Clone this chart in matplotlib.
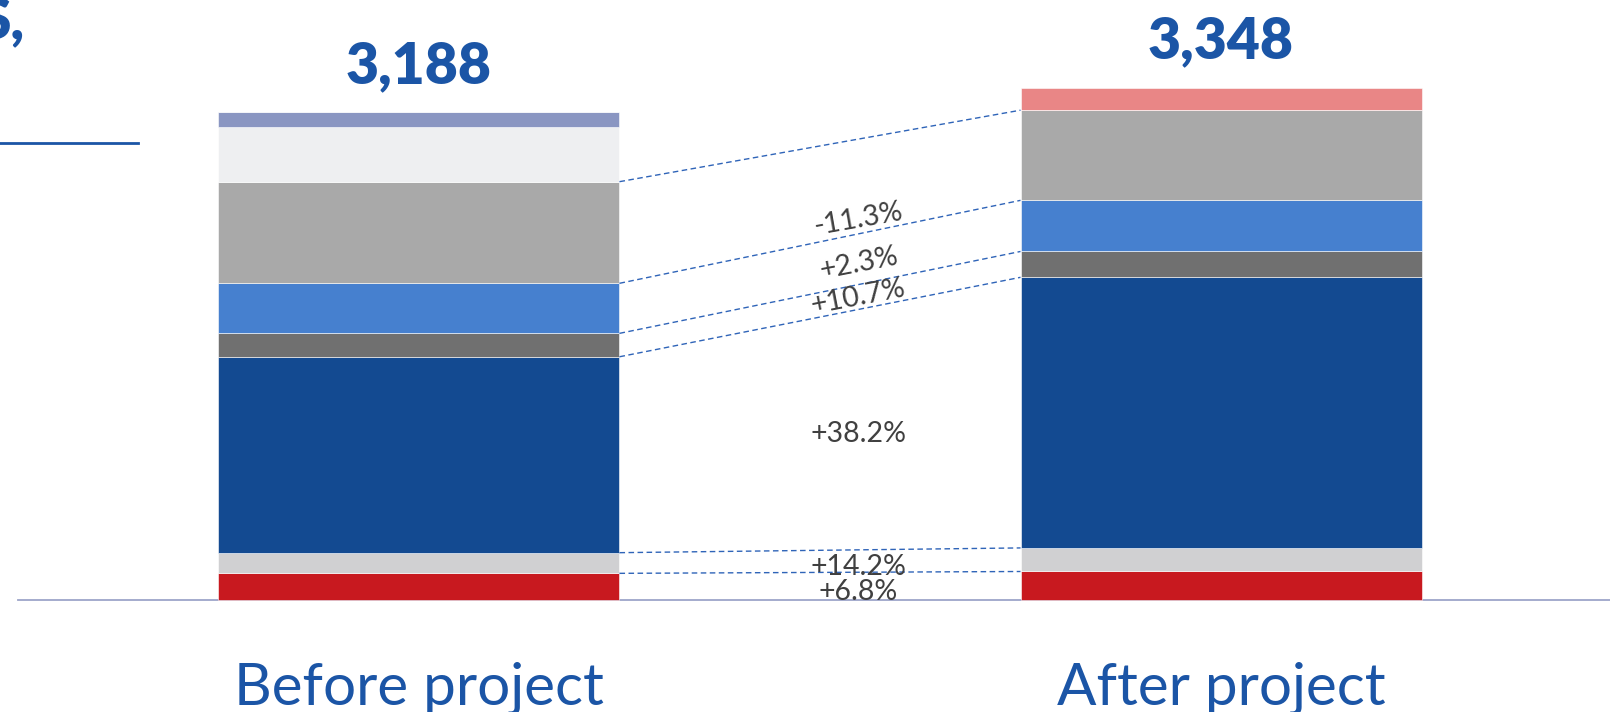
"""Before / after stacked bar with dashed connectors (bridge-style)."""
import matplotlib

matplotlib.use("Agg")
matplotlib.rcParams["font.family"] = ["Lato", "DejaVu Sans"]

import matplotlib.pyplot as plt
import numpy as np

# data, bottom segment first
categories = ["Before project", "After project"]
before = [174, 135, 1280, 153, 327, 664, 359, 96, 0]
after = [186, 154, 1768, 169, 334, 589, 0, 0, 148]
changes = ["+6.8%", "+14.2%", "+38.2%", "+10.7%", "+2.3%", "-11.3%"]

SEG_COLORS = ["#C8191F", "#D0D0D2", "#134A91", "#707070", "#4680CF",
              "#A9A9A9", "#EEEFF1", "#8A96C2", "#E98686"]
BLUE_TXT = "#1B55A6"
DASH = "#2F64B8"
INK = "#404040"
BASE = "#9DA5C9"

# label tweaks (rotation deg, vertical nudge in pt)
LABEL_ROT = [0, 0, 0, 11, 11, 10]
LABEL_NUDGE = [-4, -4, -3, 0, -3, -24]

fig = plt.figure(figsize=(16.1, 7.12), dpi=100)
ax = fig.add_axes([0, 0, 1, 1])
ax.set_xlim(-0.5224, 1.485)
ax.set_ylim(-732, 3920)
ax.axis("off")

width = 0.5
x = np.arange(len(categories))
stack = np.array([before, after])
bottoms = np.zeros(len(categories))
for i, col in enumerate(SEG_COLORS):
    ax.bar(x, stack[:, i], width, bottom=bottoms, color=col,
           edgecolor="white", linewidth=0.4, zorder=2)
    bottoms += stack[:, i]

ax.plot([-0.5, 1.5], [0, 0], color=BASE, linewidth=1.3, zorder=1)

# connectors + change labels
cum_b = np.cumsum(before)
cum_a = np.cumsum(after)
x0, x1 = x[0] + width / 2, x[1] - width / 2
lx = 0.548
t = (lx - x0) / (x1 - x0)
for i, lab in enumerate(changes):
    ax.plot([x0, x1], [cum_b[i], cum_a[i]], color=DASH, linewidth=1.0,
            dashes=(4, 2.5), zorder=3)
    lo_b = cum_b[i] - before[i]
    lo_a = cum_a[i] - after[i]
    mid = ((lo_b + cum_b[i]) / 2) * (1 - t) + ((lo_a + cum_a[i]) / 2) * t
    ax.annotate(lab, xy=(lx, mid), xytext=(0, LABEL_NUDGE[i]),
                textcoords="offset points", ha="center", va="center",
                rotation=LABEL_ROT[i], rotation_mode="anchor",
                fontsize=20.5, color=INK, zorder=4)

# totals
totals = stack.sum(axis=1)
for xi, tot in zip(x, totals):
    ax.annotate(f"{tot:,}", xy=(xi, tot), xytext=(0, 21), textcoords="offset points",
                ha="center", va="baseline", fontsize=41, fontweight="heavy",
                color=BLUE_TXT)

# category labels
for xi, cat in zip(x, categories):
    ax.annotate(cat, xy=(xi, 0), xytext=(0, -75), textcoords="offset points",
                ha="center", va="baseline", fontsize=42, color=BLUE_TXT)

# cropped title remnant and rule at top-left
fig.text(24 / 1610, 1 - 38 / 712, "S,", ha="right", va="baseline",
         fontsize=41, fontweight="heavy", color=BLUE_TXT)
fig.add_artist(plt.Line2D([0, 138 / 1610], [1 - 143 / 712, 1 - 143 / 712],
                          color=BLUE_TXT, linewidth=2))

fig.savefig("out.png", dpi=100, facecolor="white")
plt.close(fig)
